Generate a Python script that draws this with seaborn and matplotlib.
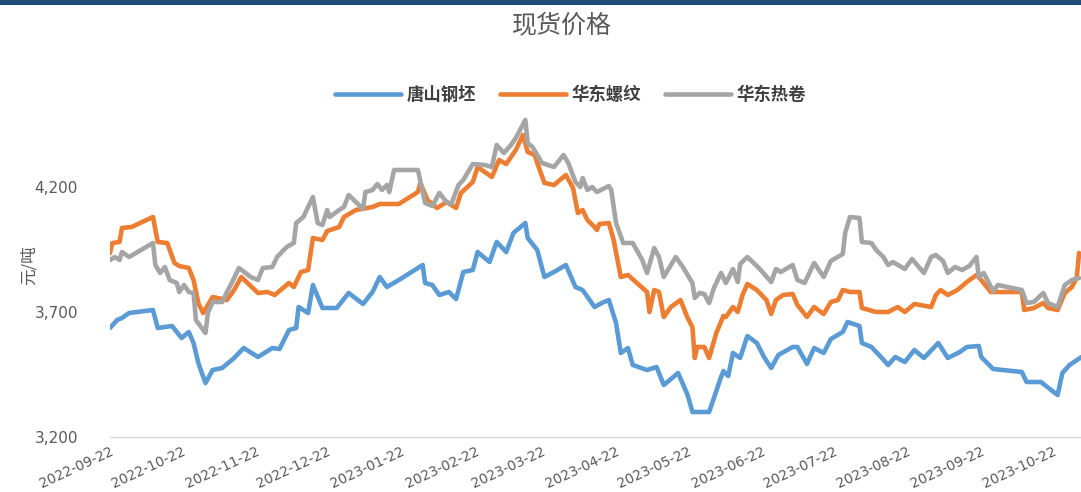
import numpy as np
import pandas as pd
import matplotlib
matplotlib.use("Agg")
import matplotlib.pyplot as plt
import matplotlib.ticker as mticker
from matplotlib.patches import Rectangle
import seaborn as sns

# 日期用 2022-09-22 起的天数表示, 数值单位 元/吨
start_date = "2022-09-22"
end_day = 406.8

blue_days = [0, 3, 5, 8, 18, 20, 26, 30, 33, 35, 37, 40, 43, 47, 52, 56, 62, 68, 71, 75,
             78, 79, 83, 85, 89, 95, 100, 106, 110, 113, 116, 121, 131, 132, 135, 138, 142, 145, 148, 152,
             154, 159, 162, 166, 169, 174, 175, 179, 182, 186, 191, 195, 198, 203, 206, 209, 212, 214, 217, 219,
             225, 229, 232, 238, 242, 244, 251, 256, 257, 259, 261, 264, 267, 271, 274, 277, 280, 286, 288, 292,
             295, 299, 302, 307, 309, 314, 315, 319, 323, 326, 329, 333, 337, 341, 347, 351, 356, 359, 364, 365,
             370, 382, 384, 390, 397, 399, 402, 407]
blue_vals = [3636, 3668, 3676, 3696, 3708, 3636, 3644, 3596, 3620, 3576, 3496, 3416, 3468, 3476, 3516, 3556, 3520, 3556, 3552, 3628,
             3636, 3720, 3696, 3808, 3716, 3716, 3776, 3732, 3780, 3840, 3800, 3828, 3888, 3816, 3808, 3768, 3780, 3752, 3860, 3868,
             3940, 3900, 3980, 3940, 4016, 4056, 3996, 3948, 3840, 3860, 3888, 3800, 3788, 3720, 3736, 3748, 3656, 3536, 3556, 3488,
             3468, 3480, 3408, 3456, 3368, 3300, 3300, 3440, 3464, 3444, 3536, 3516, 3604, 3576, 3520, 3476, 3528, 3560, 3560, 3492,
             3556, 3536, 3592, 3620, 3660, 3644, 3576, 3560, 3520, 3488, 3520, 3500, 3548, 3516, 3576, 3516, 3540, 3560, 3564, 3520,
             3472, 3460, 3420, 3420, 3368, 3456, 3488, 3520]

orange_days = [0, 1, 4, 5, 9, 18, 20, 24, 27, 29, 33, 35, 37, 39, 43, 49, 52, 55, 62, 66,
               69, 75, 77, 80, 83, 85, 89, 91, 96, 98, 103, 110, 113, 121, 129, 130, 133, 137, 141, 145,
               147, 152, 154, 160, 163, 166, 170, 173, 175, 178, 179, 182, 186, 191, 194, 196, 198, 200, 203, 204,
               205, 209, 211, 214, 217, 225, 226, 228, 230, 232, 235, 239, 242, 244, 245, 246, 249, 251, 254, 257,
               258, 261, 263, 265, 267, 271, 275, 277, 279, 282, 286, 288, 292, 295, 299, 302, 305, 307, 310, 314,
               315, 321, 326, 330, 333, 337, 344, 346, 348, 351, 355, 359, 363, 365, 369, 382, 383, 387, 391, 393,
               397, 400, 403, 405, 406]
orange_vals = [3936, 3976, 3980, 4036, 4040, 4080, 3980, 3976, 3896, 3884, 3876, 3828, 3736, 3696, 3760, 3748, 3788, 3840, 3776, 3780,
               3768, 3816, 3800, 3860, 3868, 3996, 3988, 4024, 4040, 4080, 4108, 4120, 4132, 4132, 4180, 4216, 4148, 4116, 4140, 4116,
               4176, 4220, 4280, 4240, 4308, 4292, 4348, 4408, 4340, 4328, 4296, 4216, 4208, 4248, 4196, 4096, 4108, 4068, 4040, 4028,
               4052, 4056, 3988, 3840, 3848, 3780, 3700, 3788, 3780, 3680, 3720, 3748, 3676, 3640, 3516, 3560, 3560, 3516, 3616, 3684,
               3680, 3720, 3700, 3768, 3812, 3788, 3748, 3692, 3748, 3768, 3772, 3728, 3680, 3720, 3692, 3740, 3748, 3788, 3780, 3780,
               3716, 3700, 3700, 3720, 3700, 3732, 3720, 3768, 3788, 3768, 3788, 3820, 3848, 3828, 3780, 3780, 3708, 3716, 3736, 3716,
               3708, 3776, 3800, 3836, 3936]

gray_days = [0, 2, 4, 5, 8, 18, 19, 21, 23, 25, 28, 29, 31, 33, 35, 36, 40, 41, 43, 47,
             49, 51, 54, 59, 62, 64, 68, 70, 74, 77, 78, 81, 85, 87, 89, 91, 92, 96, 98, 100,
             106, 107, 110, 112, 114, 116, 117, 119, 129, 132, 135, 138, 141, 143, 146, 148, 152, 157, 160, 162,
             165, 168, 170, 174, 175, 177, 181, 186, 190, 192, 195, 197, 198, 200, 202, 204, 209, 210, 212, 215,
             219, 223, 225, 228, 230, 232, 237, 240, 244, 245, 247, 249, 251, 253, 256, 258, 261, 263, 264, 267,
             271, 273, 277, 279, 281, 286, 288, 291, 295, 299, 302, 307, 308, 310, 314, 315, 319, 321, 324, 326,
             328, 333, 336, 341, 344, 346, 349, 351, 354, 357, 360, 363, 364, 366, 370, 372, 382, 384, 387, 391,
             393, 397, 400, 403, 406]
gray_vals = [3908, 3920, 3908, 3940, 3920, 3976, 3888, 3856, 3880, 3828, 3816, 3780, 3808, 3780, 3776, 3668, 3616, 3696, 3740, 3740,
             3780, 3816, 3876, 3840, 3828, 3876, 3880, 3920, 3960, 3976, 4056, 4080, 4160, 4056, 4048, 4108, 4080, 4108, 4120, 4168,
             4112, 4180, 4188, 4212, 4188, 4208, 4180, 4268, 4268, 4136, 4124, 4176, 4140, 4132, 4208, 4228, 4292, 4288, 4280, 4368,
             4336, 4368, 4396, 4468, 4376, 4360, 4296, 4280, 4328, 4296, 4220, 4200, 4236, 4188, 4200, 4180, 4204, 4188, 4056, 3976,
             3976, 3908, 3856, 3956, 3920, 3840, 3920, 3880, 3816, 3756, 3776, 3772, 3736, 3796, 3856, 3816, 3872, 3820, 3892, 3920,
             3884, 3864, 3820, 3872, 3860, 3888, 3828, 3816, 3896, 3840, 3904, 3932, 4016, 4080, 4076, 3980, 3976, 3948, 3920, 3888,
             3900, 3872, 3912, 3856, 3920, 3928, 3904, 3856, 3880, 3868, 3884, 3920, 3840, 3856, 3784, 3808, 3788, 3736, 3740, 3776,
             3736, 3720, 3808, 3828, 3836]

series_names = ["唐山钢坯", "华东螺纹", "华东热卷"]
series_colors = ["#5B9BD5", "#ED7D31", "#A5A5A5"]
tick_labels = ["2022-09-22", "2022-10-22", "2022-11-22", "2022-12-22", "2023-01-22", "2023-02-22",
               "2023-03-22", "2023-04-22", "2023-05-22", "2023-06-22", "2023-07-22", "2023-08-22",
               "2023-09-22", "2023-10-22"]
y_ticks = [3200, 3700, 4200]

t0 = pd.Timestamp(start_date)
frames = []
for name, days, vals in zip(series_names, [blue_days, orange_days, gray_days], [blue_vals, orange_vals, gray_vals]):
    frames.append(pd.DataFrame({"date": t0 + pd.to_timedelta(days, unit="D"), "price": vals, "series": name}))
df = pd.concat(frames, ignore_index=True)

sns.set_theme(style="white")
plt.rcParams["font.family"] = ["Noto Sans CJK SC", "DejaVu Sans"]

fig = plt.figure(figsize=(10.81, 4.92), dpi=100)
ax = fig.add_axes([110 / 1081, 55 / 492, 971 / 1081, 325 / 492])

sns.lineplot(data=df, x="date", y="price", hue="series", hue_order=series_names,
             palette=series_colors, estimator=None, sort=False, linewidth=3.3, ax=ax, legend=True)

ax.set_xlim(t0, t0 + pd.Timedelta(days=end_day))
ax.set_ylim(3200, 4500)
ax.set_yticks(y_ticks)
ax.yaxis.set_major_formatter(mticker.FuncFormatter(lambda v, p: f"{int(v):,}"))
ax.set_xticks(pd.to_datetime(tick_labels))
ax.set_xticklabels(tick_labels, rotation=25, ha="right", rotation_mode="anchor",
                   fontsize=10, color="#595959", family=["DejaVu Sans"])
for lab in ax.get_yticklabels():
    lab.set_fontsize(11)
    lab.set_color("#595959")
    lab.set_family(["DejaVu Sans"])
ax.tick_params(axis="y", length=0, pad=23)
ax.tick_params(axis="x", length=3, width=1, color="#D9D9D9", direction="out", pad=2)
ax.set_xlabel("")
ax.set_ylabel("元/吨", fontsize=12, color="#595959")
ax.yaxis.set_label_coords(-72 / 971, 0.53)
for s in ["top", "right", "left"]:
    ax.spines[s].set_visible(False)
ax.spines["bottom"].set_color("#D9D9D9")
ax.spines["bottom"].set_linewidth(1)
ax.grid(False)

handles, labels = ax.get_legend_handles_labels()
ax.get_legend().remove()
leg = fig.legend(handles, labels, loc="center", bbox_to_anchor=(0.528, 1 - 95 / 492), ncol=3,
                 frameon=False, fontsize=12.5, handlelength=3.8, columnspacing=1.4, handletextpad=0.3)
for t in leg.get_texts():
    t.set_color("#404040")
    t.set_fontweight("bold")
for h in leg.get_lines():
    h.set_linewidth(3.3)

fig.text(562 / 1081, 1 - 25 / 492, "现货价格", ha="center", va="center", fontsize=18, color="#595959")
fig.patches.append(Rectangle((0, 1 - 5 / 492), 1, 5 / 492, transform=fig.transFigure,
                             facecolor="#1F4E79", edgecolor="none"))

fig.savefig("out.png", dpi=100)
